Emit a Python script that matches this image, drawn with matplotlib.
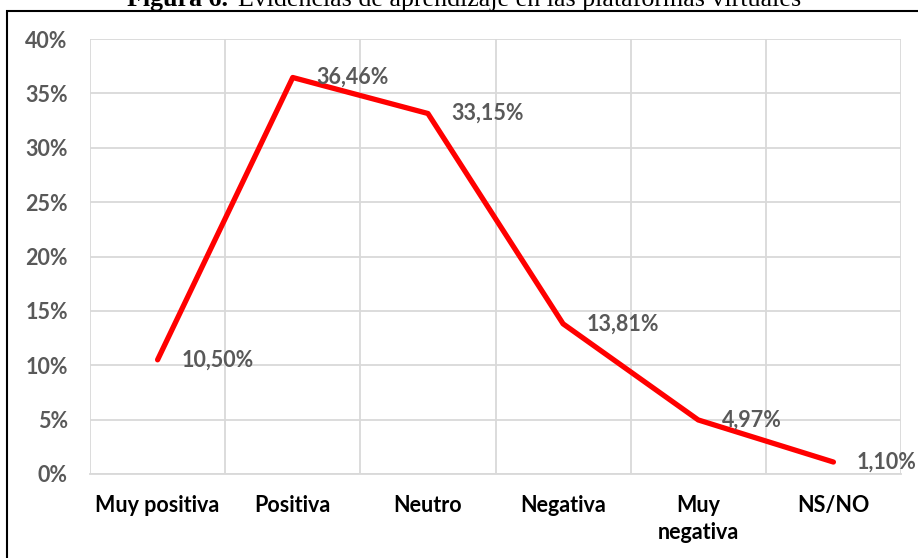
import matplotlib.pyplot as plt
import matplotlib.patches as mpatches

plt.rcParams.update({'font.family': ['Lato', 'DejaVu Sans']})

categories = ['Muy positiva', 'Positiva', 'Neutro', 'Negativa', 'Muy\nnegativa', 'NS/NO']
values = [10.50, 36.46, 33.15, 13.81, 4.97, 1.10]
value_labels = ['10,50%', '36,46%', '33,15%', '13,81%', '4,97%', '1,10%']
y_ticks = [0, 5, 10, 15, 20, 25, 30, 35, 40]

fig = plt.figure(figsize=(9.18, 5.58), dpi=100)
W, H = 918, 558
ax = fig.add_axes([90 / W, (H - 474) / H, (901 - 90) / W, (474 - 39) / H])

x = [i + 0.5 for i in range(len(categories))]
ax.plot(x, values, color='#FF0000', linewidth=3.8, solid_capstyle='round', zorder=3)

for xi, v, lab in zip(x, values, value_labels):
    ax.annotate(lab, (xi, v), xytext=(17, 0), textcoords='offset points',
                ha='left', va='center', fontsize=15.5, fontweight='bold',
                color='#595959', zorder=4, annotation_clip=False)

ax.set_xlim(0, len(categories))
ax.set_ylim(0, 40)
ax.set_yticks(y_ticks)
ax.set_yticklabels([f'{t}%' for t in y_ticks], fontsize=15.5, fontweight='bold', color='#595959')
ax.set_xticks(x)
ax.set_xticklabels(categories, fontsize=15.5, fontweight='bold', color='black', linespacing=1.35)
ax.set_xticks(range(len(categories) + 1), minor=True)
ax.tick_params(axis='both', which='both', length=0)
ax.tick_params(axis='y', pad=16)
ax.tick_params(axis='x', pad=15)

ax.grid(True, axis='y', color='#D9D9D9', linewidth=1.3)
ax.grid(True, axis='x', which='minor', color='#D9D9D9', linewidth=1.3)
ax.grid(False, axis='x', which='major')
ax.set_axisbelow(True)
for s in ['top', 'right', 'left']:
    ax.spines[s].set_visible(False)
ax.spines['bottom'].set_color('#D9D9D9')
ax.spines['bottom'].set_linewidth(1.3)

# frame around the chart
fig.patches.append(mpatches.Rectangle((7 / W, -0.1), 1.2, (H - 11) / H + 0.1,
                                      transform=fig.transFigure, fill=False,
                                      edgecolor='black', linewidth=1.5))

# title, partly cut off at the top
fig.text(127 / W, (H - 6) / H, 'Figura 6.', fontfamily='Liberation Serif',
         fontsize=18.7, fontweight='bold', ha='left', va='baseline')
fig.text(238 / W, (H - 6) / H, 'Evidencias de aprendizaje en las plataformas virtuales',
         fontfamily='Liberation Serif', fontsize=18.7, ha='left', va='baseline')

plt.savefig('out.png', dpi=100)
